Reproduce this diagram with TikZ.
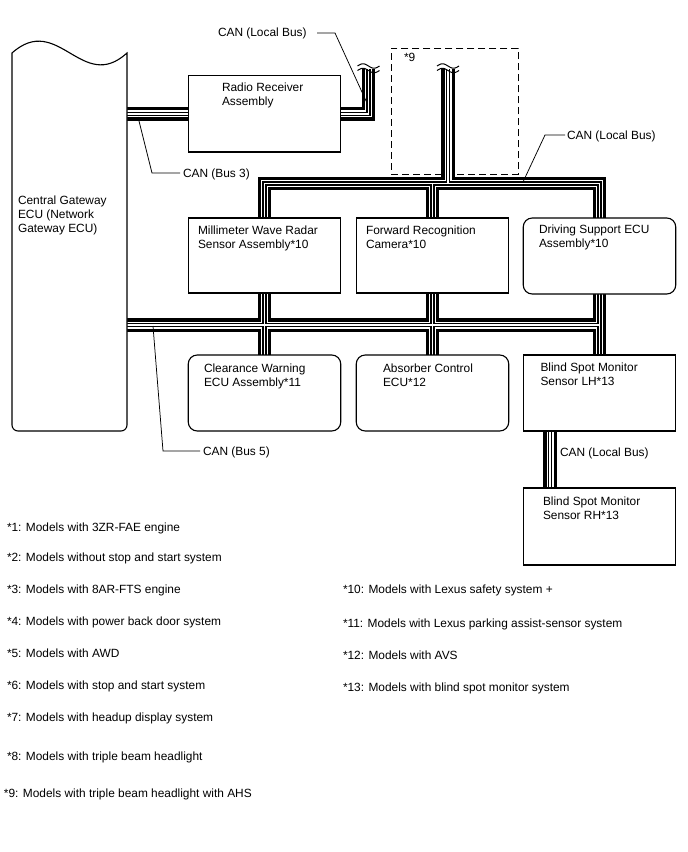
\documentclass[tikz,border=0pt]{standalone}
\usepackage{fontspec}
\setmainfont{Liberation Sans}
\pgfdeclarelayer{fg}
\pgfsetlayers{main,fg}
\begin{document}
\begin{tikzpicture}[x=1pt,y=-1pt,
  box/.style={draw, line width=1.1pt, fill=white, minimum width=152.5pt, minimum height=75pt, inner sep=0pt, outer sep=0pt},
  rbox/.style={box, rounded corners=9pt},
  txt/.style={anchor=base west, inner sep=0pt, outer sep=0pt, font=\fontsize{11.9}{14}\selectfont},
  leader/.style={line width=0.75pt},
  brk/.style={line width=1pt},
  optbox/.style={draw, line width=0.9pt, dash pattern=on 7pt off 4pt, minimum width=127pt, minimum height=126pt, inner sep=0pt, anchor=north west},
]
\useasboundingbox (0,0) rectangle (688,852);

% optional area *9
\node[optbox] (opt9) at (391,48) {};

\begin{pgfonlayer}{fg}
% central gateway
\draw[line width=1.1pt, fill=white] (12,53) .. controls (58,12) and (82,94) .. (127,53)
  -- (127,425) arc[start angle=0,end angle=90,radius=6] -- (18,431)
  arc[start angle=90,end angle=180,radius=6] -- cycle;
\node[box, minimum height=76.5pt] (radio) at (264.5,113.75) {};
\node[box] (mmw) at (264.5,255.5) {};
\node[box] (fwd) at (432.5,255.5) {};
\node[rbox, minimum height=76pt] (drv) at (599.5,256) {};
\node[rbox, minimum height=76pt] (clr) at (264.5,393) {};
\node[rbox, minimum height=76pt] (abs) at (432.5,393) {};
\node[box, minimum height=76pt] (bsl) at (599.5,393) {};
\node[box, minimum height=77pt] (bsr) at (599.5,526.5) {};

% texts
\node[txt] (t1) at (222,91) {Radio Receiver};
\node[txt] (t2) at (222,105.5) {Assembly};
\node[txt] (t3) at (18,204) {Central Gateway};
\node[txt] (t4) at (18,218) {ECU (Network};
\node[txt] (t5) at (18,232) {Gateway ECU)};
\node[txt] (t6) at (198,234.5) {Millimeter Wave Radar};
\node[txt] (t7) at (198,248.5) {Sensor Assembly*10};
\node[txt] (t8) at (366,234.5) {Forward Recognition};
\node[txt] (t9) at (366,248.5) {Camera*10};
\node[txt] (t10) at (539,233) {Driving Support ECU};
\node[txt] (t11) at (539,247) {Assembly*10};
\node[txt] (t12) at (204,372) {Clearance Warning};
\node[txt] (t13) at (204,386) {ECU Assembly*11};
\node[txt] (t14) at (383,372) {Absorber Control};
\node[txt] (t15) at (383,386) {ECU*12};
\node[txt] (t16) at (540.5,371.5) {Blind Spot Monitor};
\node[txt] (t17) at (540.5,385.5) {Sensor LH*13};
\node[txt] (t18) at (543,505) {Blind Spot Monitor};
\node[txt] (t19) at (543,519) {Sensor RH*13};
\end{pgfonlayer}

% labels
\node[txt] (lA) at (218,36) {CAN (Local Bus)};
\node[txt] (l9) at (404,61) {*9};
\node[txt] (lB) at (567,139) {CAN (Local Bus)};
\node[txt] (lC) at (183,177) {CAN (Bus 3)};
\node[txt] (lD) at (203,455.5) {CAN (Bus 5)};
\node[txt] (lE) at (560,456.5) {CAN (Local Bus)};

% notes
\node[txt] (n1) at (7,531) {*1: Models with 3ZR-FAE engine};
\node[txt] (n2) at (7,561) {*2: Models without stop and start system};
\node[txt] (n3) at (7,593) {*3: Models with 8AR-FTS engine};
\node[txt] (n4) at (7,625.5) {*4: Models with power back door system};
\node[txt] (n5) at (7,657.5) {*5: Models with AWD};
\node[txt] (n6) at (7,689.5) {*6: Models with stop and start system};
\node[txt] (n7) at (7,721.5) {*7: Models with headup display system};
\node[txt] (n8) at (7,760.5) {*8: Models with triple beam headlight};
\node[txt] (n9) at (4,797) {*9: Models with triple beam headlight with AHS};
\node[txt] (n10) at (343,593.5) {*10: Models with Lexus safety system +};
\node[txt] (n11) at (343,627.5) {*11: Models with Lexus parking assist-sensor system};
\node[txt] (n12) at (343,659.5) {*12: Models with AVS};
\node[txt] (n13) at (343,691.5) {*13: Models with blind spot monitor system};

% bus coordinates
\coordinate (gwA) at (127,113.75);
\coordinate (gwB) at (127,325);
\coordinate (rbT) at (368.5,69);
\coordinate (o9T) at (448,69);
\coordinate (tl) at (264.5,183.5);
\coordinate (tr) at (599.5,183.5);
\coordinate (bsA) at (550,431);

% CAN buses (layered twisted pair look)
\foreach \w/\c in {13.5/black, 7/white, 4.2/black, 1.8/white}{
  \draw[line width=\w pt, draw=\c] (gwA) -- (radio.west);
  \draw[line width=\w pt, draw=\c] (radio.east) -- (radio.east -| rbT) -- (rbT);
  \draw[line width=\w pt, draw=\c] (o9T) -- (o9T |- tl);
  \draw[line width=\w pt, draw=\c] (mmw.north) -- (tl) -- (tr) -- (drv.north);
  \draw[line width=\w pt, draw=\c] (fwd.north) -- (fwd.north |- tl);
  \draw[line width=\w pt, draw=\c] (mmw.south) -- (clr.north);
  \draw[line width=\w pt, draw=\c] (fwd.south) -- (abs.north);
  \draw[line width=\w pt, draw=\c] (drv.south) -- (bsl.north);
  \draw[line width=\w pt, draw=\c] (gwB) -- (gwB -| drv.south);
  \draw[line width=\w pt, draw=\c] (bsl.south -| bsA) -- (bsr.north -| bsA);
}

% break marks
\foreach \cx in {368.5, 448}{
  \draw[brk] plot[domain=-11:11, samples=30] ({\cx+\x},{66+2.2*sin(16.36*\x)});
  \draw[brk] plot[domain=-11:11, samples=30] ({\cx+\x},{70.5+2.2*sin(16.36*\x)});
}

% leader lines
\coordinate (pA1) at (317,33); \coordinate (pA2) at (335,33); \coordinate (pA3) at (367,103);
\coordinate (pB1) at (565,135); \coordinate (pB2) at (545,135); \coordinate (pB3) at (523,182);
\coordinate (pC1) at (180,173); \coordinate (pC2) at (152,173); \coordinate (pC3) at (138,117);
\coordinate (pD1) at (200,451); \coordinate (pD2) at (163,451); \coordinate (pD3) at (153,326);
\draw[leader] (pA1) -- (pA2) -- (pA3);
\draw[leader] (pB1) -- (pB2) -- (pB3);
\draw[leader] (pC1) -- (pC2) -- (pC3);
\draw[leader] (pD1) -- (pD2) -- (pD3);
\end{tikzpicture}
\end{document}
